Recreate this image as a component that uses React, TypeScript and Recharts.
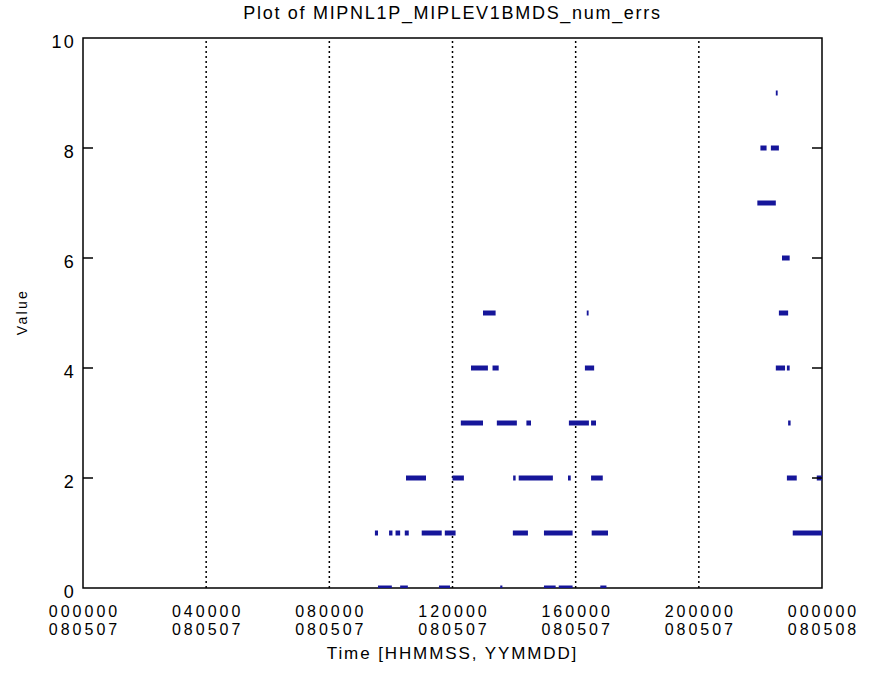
import { LineChart, Line, XAxis, YAxis, ReferenceLine, ReferenceArea } from "recharts";

// hours of day (0-24) where errors were reported, grouped by value level
// each entry is [start, end] of a run of points at that value
const level0: [number, number][] = [[9.58, 10.03], [10.3, 10.55], [11.56, 11.92], [13.55, 13.62], [14.97, 15.35], [15.45, 15.9], [16.8, 17.0]];
const level1: [number, number][] = [[9.48, 9.58], [9.94, 10.05], [10.15, 10.3], [10.45, 10.58], [11.0, 11.65], [11.75, 12.1], [13.96, 14.45], [14.97, 15.9], [16.52, 17.05], [23.05, 24.0]];
const level2: [number, number][] = [[10.49, 11.14], [12.0, 12.37], [13.97, 14.05], [14.15, 15.26], [15.75, 15.84], [16.5, 16.88], [22.86, 23.18], [23.83, 24.0]];
const level3: [number, number][] = [[12.27, 12.99], [13.44, 14.09], [14.4, 14.55], [15.78, 16.43], [16.5, 16.66], [22.9, 22.98]];
const level4: [number, number][] = [[12.6, 13.15], [13.3, 13.5], [16.3, 16.6], [22.5, 22.8], [22.86, 22.95]];
const level5: [number, number][] = [[12.99, 13.4], [16.36, 16.42], [22.6, 22.9]];
const level6: [number, number][] = [[22.7, 22.95]];
const level7: [number, number][] = [[21.9, 22.5]];
const level8: [number, number][] = [[22.0, 22.2], [22.34, 22.6]];
const level9: [number, number][] = [[22.5, 22.56]];

const levels = [level0, level1, level2, level3, level4, level5, level6, level7, level8, level9];

const xTicks = [0, 4, 8, 12, 16, 20, 24];
const xTickTime = ["000000", "040000", "080000", "120000", "160000", "200000", "000000"];
const xTickDate = ["080507", "080507", "080507", "080507", "080507", "080507", "080508"];
const gridHours = [4, 8, 12, 16, 20];
const yTicks = [0, 2, 4, 6, 8, 10];

const FONT = "'Liberation Sans', Arial, sans-serif";
const BLUE = "#16169a";

const segments = levels.flatMap((runs, v) =>
  runs.map(([a, b]) => [
    { t: a, v },
    { t: b, v },
  ])
);

// two-line time/date label under each major tick
const XTick = ({ x, y, index }: any) => (
  <g fontFamily={FONT} fontSize={16} letterSpacing={3} fill="#000">
    <text x={x + 1.5} y={y + 29} textAnchor="middle">{xTickTime[index]}</text>
    <text x={x + 1.5} y={y + 47} textAnchor="middle">{xTickDate[index]}</text>
  </g>
);

const YTick = ({ x, y, payload }: any) => (
  <g>
    <text x={x - 7} y={y + 4} dy="0.35em" textAnchor="end" fontFamily={FONT} fontSize={18} letterSpacing={2.2} fill="#000">
      {payload.value}
    </text>
    {payload.value > 0 && payload.value < 10 && (
      <>
        <line x1={x} x2={x + 10} y1={y} y2={y} stroke="#000" strokeWidth={1.5} />
        <line x1={822} x2={812} y1={y} y2={y} stroke="#000" strokeWidth={1.5} />
      </>
    )}
  </g>
);

export default function App() {
  return (
    <div style={{ position: "absolute", left: 0, top: 0, width: 873, height: 675, background: "#fff" }}>
      <div
        style={{
          position: "absolute",
          left: 0,
          width: 905,
          top: 3,
          textAlign: "center",
          fontFamily: FONT,
          fontSize: 18,
          letterSpacing: 1.7,
        }}
      >
        Plot of MIPNL1P_MIPLEV1BMDS_num_errs
      </div>
      <div
        style={{
          position: "absolute",
          left: 0,
          width: 905,
          top: 644,
          textAlign: "center",
          fontFamily: FONT,
          fontSize: 17,
          letterSpacing: 1.9,
        }}
      >
        Time [HHMMSS, YYMMDD]
      </div>
      <div
        style={{
          position: "absolute",
          left: 22,
          top: 312,
          transform: "translate(-50%, -50%) rotate(-90deg)",
          fontFamily: FONT,
          fontSize: 14,
          letterSpacing: 2.3,
          whiteSpace: "nowrap",
        }}
      >
        Value
      </div>
      <LineChart width={873} height={675} margin={{ top: 38, right: 51, bottom: 27, left: 0 }}>
        <XAxis
          type="number"
          dataKey="t"
          domain={[0, 24]}
          ticks={xTicks}
          allowDataOverflow
          tickLine={false}
          tickSize={0}
          tickMargin={0}
          height={60}
          axisLine={false}
          tick={<XTick />}
          interval={0}
        />
        <YAxis
          type="number"
          dataKey="v"
          domain={[0, 10]}
          ticks={yTicks}
          allowDataOverflow
          width={83}
          tickLine={false}
          tickSize={0}
          tickMargin={0}
          axisLine={false}
          tick={<YTick />}
          interval={0}
        />
        {gridHours.map((h) => (
          <ReferenceLine key={h} x={h} stroke="#000" strokeWidth={1.5} strokeDasharray="2 3" />
        ))}
        {segments.map((seg, i) => (
          <Line
            key={i}
            data={seg}
            dataKey="v"
            stroke={BLUE}
            strokeWidth={5}
            dot={false}
            activeDot={false}
            isAnimationActive={false}
            type="linear"
          />
        ))}
        <ReferenceArea x1={0} x2={24} y1={0} y2={10} fill="none" stroke="#000" strokeWidth={1.5} />
      </LineChart>
    </div>
  );
}
